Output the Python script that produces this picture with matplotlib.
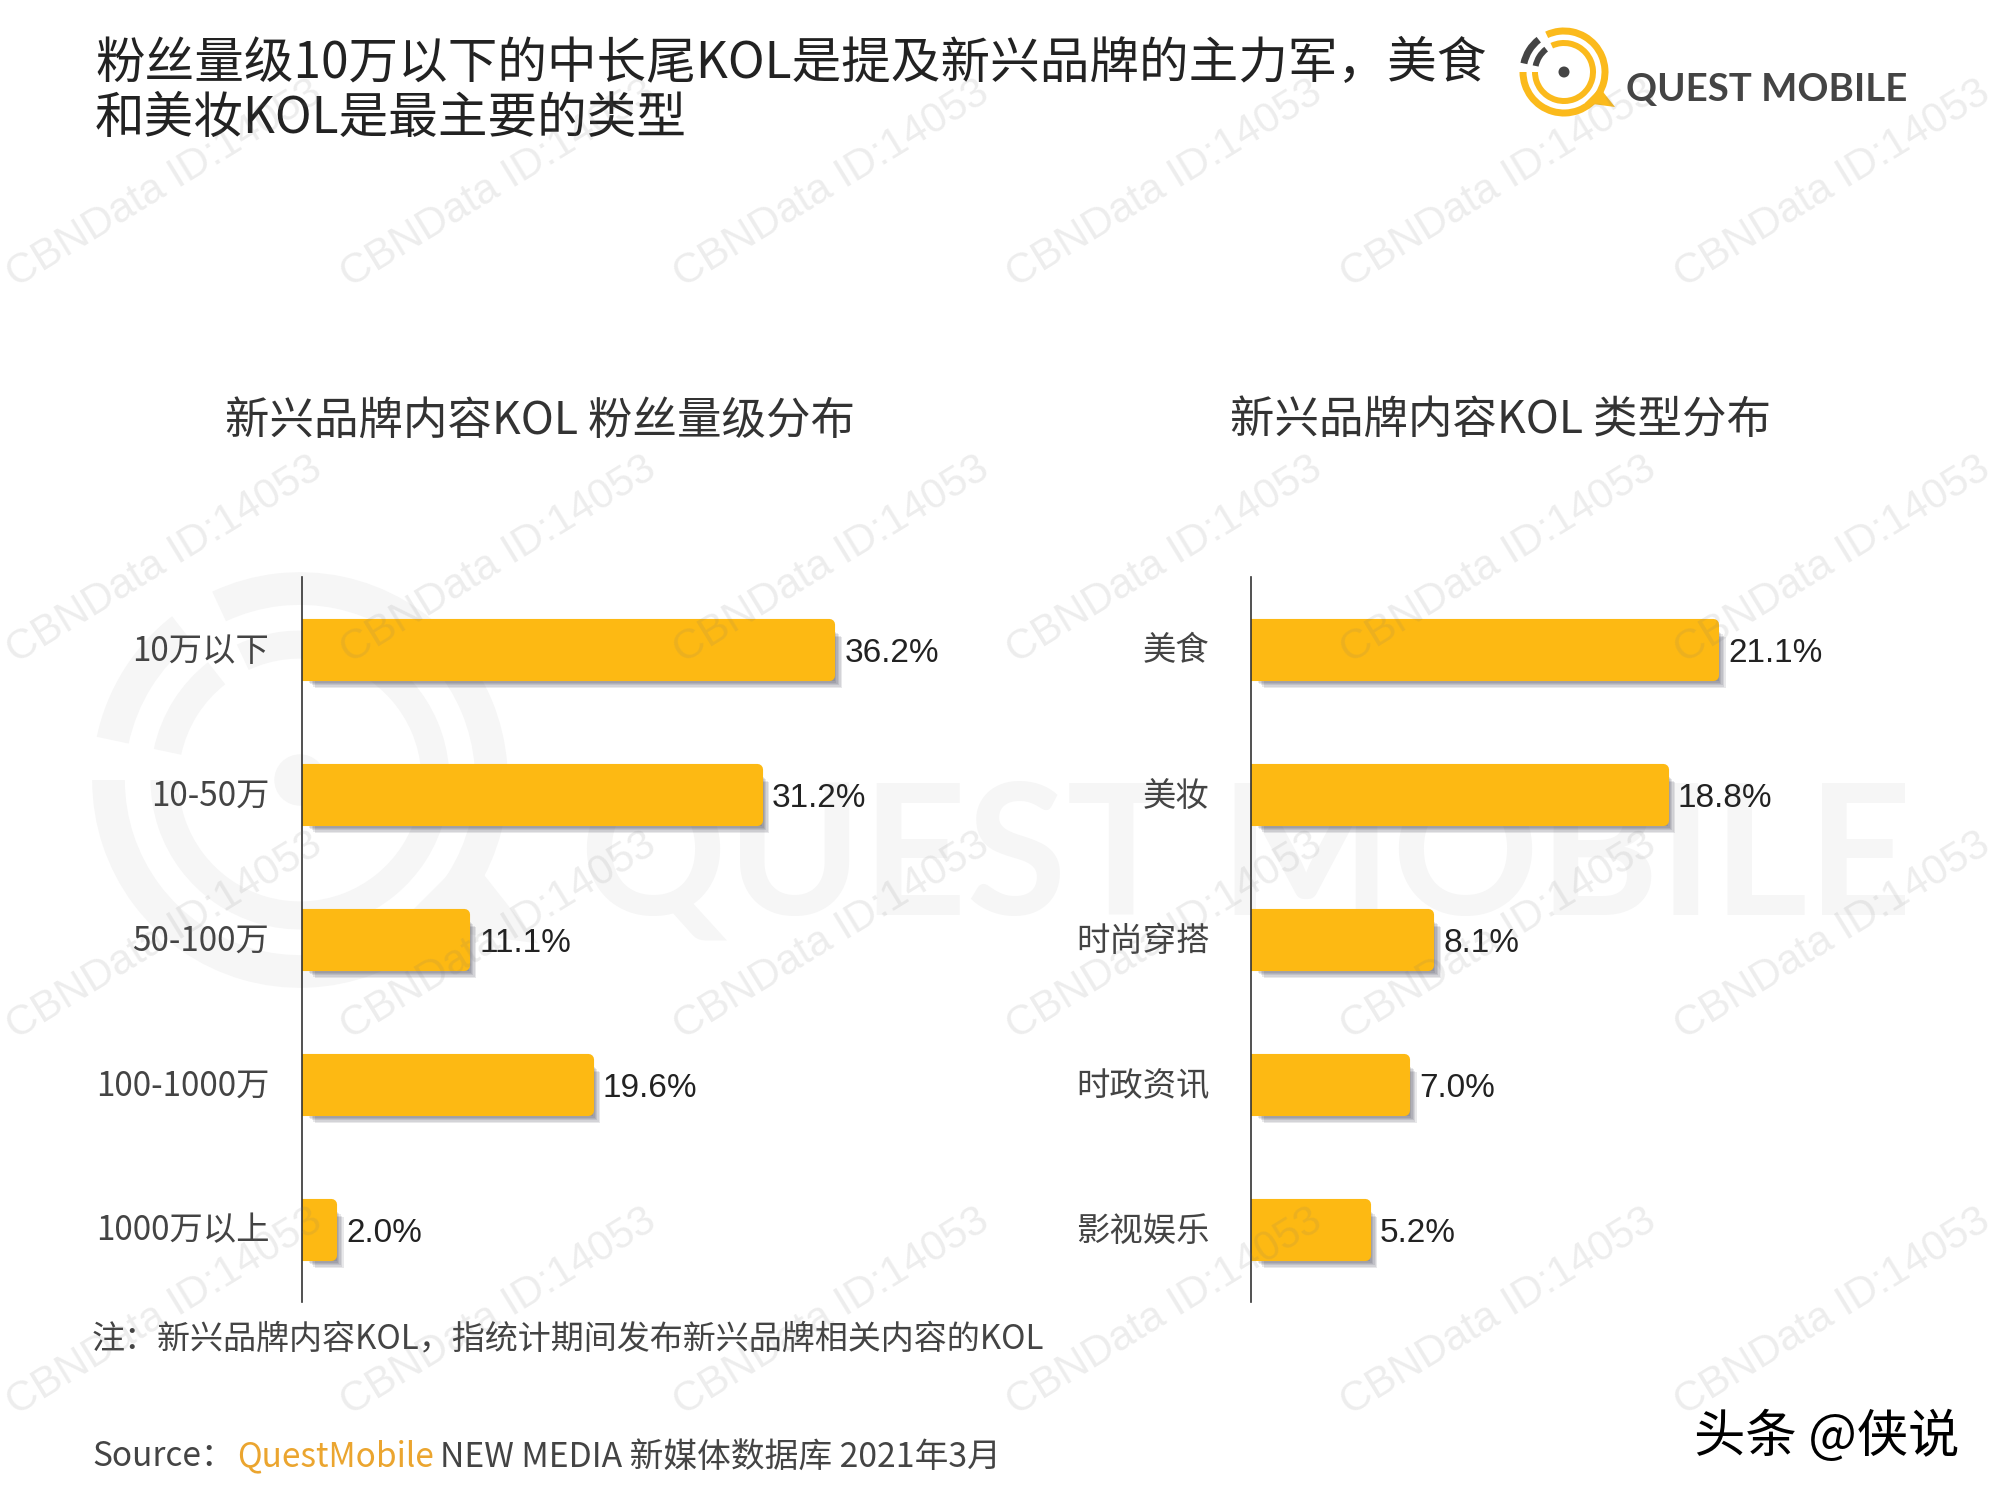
import matplotlib
matplotlib.use("Agg")
import matplotlib.pyplot as plt
import matplotlib.patheffects as pe
from matplotlib.patches import Wedge, Circle, Polygon
from matplotlib.transforms import ScaledTranslation

plt.rcParams['font.family'] = ['Noto Sans CJK SC', 'DejaVu Sans']

# data
fans_labels = ["10万以下", "10-50万", "50-100万", "100-1000万", "1000万以上"]
fans_values = [36.2, 31.2, 11.1, 19.6, 2.0]
type_labels = ["美食", "美妆", "时尚穿搭", "时政资讯", "影视娱乐"]
type_values = [21.1, 18.8, 8.1, 7.0, 5.2]

YELLOW = "#FDB913"
DARK = "#444444"
CJK = ['Noto Sans CJK SC', 'DejaVu Sans']

fig = plt.figure(figsize=(20, 15), dpi=100, facecolor="white")

# background layer in pixel coordinates
bg = fig.add_axes([0, 0, 1, 1], zorder=0)
bg.set_xlim(0, 2000)
bg.set_ylim(1500, 0)
bg.axis("off")


def ring(ax, cx, cy, r, w, a1, a2, color):
    # angles as seen on screen, y axis is inverted
    ax.add_patch(Wedge((cx, cy), r, -a2, -a1, width=w, color=color, lw=0))


def logo(ax, cx, cy, s, col1, col2):
    ring(ax, cx, cy, 44.5 * s, 7 * s, 180, 475, col1)
    ring(ax, cx, cy, 32 * s, 6 * s, 180, 475, col1)
    ring(ax, cx, cy, 44.5 * s, 7 * s, 128, 168, col2)
    ring(ax, cx, cy, 32 * s, 6 * s, 128, 168, col2)
    ax.add_patch(Circle((cx, cy), 5.5 * s, color=col2, lw=0))
    tail = [(36, 16), (51, 35), (21, 31)]
    ax.add_patch(Polygon([(cx + a * s, cy + b * s) for a, b in tail], color=col1, lw=0))


# big faint logo behind the charts
logo(bg, 300, 780, 4.67, "#F6F6F6", "#F6F6F6")
bg.text(580, 915, "QUEST MOBILE", fontsize=131, family="Lato", color="#F6F6F6",
        va="baseline", ha="left", weight="bold")

# top logo
logo(bg, 1564, 72, 1, "#FBBA1C", DARK)
bg.text(1626, 90, "QUEST MOBILE", fontsize=27.6, family="Lato", weight="bold",
        color=DARK, va="center", ha="left")

# titles
bg.text(95, 64, "粉丝量级10万以下的中长尾KOL是提及新兴品牌的主力军，美食", fontsize=35.7,
        color="#222222", va="center", weight="light")
bg.text(95, 119, "和美妆KOL是最主要的类型", fontsize=35.7,
        color="#222222", va="center", weight="light")
bg.text(540, 421, "新兴品牌内容KOL 粉丝量级分布", fontsize=32, color="#333333",
        ha="center", va="center", weight="light")
bg.text(1500, 420, "新兴品牌内容KOL 类型分布", fontsize=32, color="#333333",
        ha="center", va="center", weight="light")

# footer
bg.text(92, 1339, "注：新兴品牌内容KOL，指统计期间发布新兴品牌相关内容的KOL", fontsize=23.8,
        color=DARK, va="center", weight="light")
bg.text(92, 1457, "Source：", fontsize=24, color=DARK, va="center", weight="light")
bg.text(237, 1457, "QuestMobile", fontsize=24, color="#EBA52F", va="center", weight="light")
bg.text(440, 1457, "NEW MEDIA 新媒体数据库 2021年3月", fontsize=24.3, color=DARK, va="center",
        weight="light")
bg.text(1694, 1437, "头条 @侠说", fontsize=37, color="black", va="center")


def draw_bars(rect, labels, values, xmax, pad):
    ax = fig.add_axes(rect, zorder=1)
    ax.patch.set_alpha(0)
    bars = ax.barh(range(len(values)), values, height=0.352, color=YELLOW, edgecolor=YELLOW,
                   linewidth=8, joinstyle="round")
    # soft shadow, a few layers since matplotlib has no blur
    shadow = [pe.SimplePatchShadow(offset=(4.0 + k, -4.5 - k), shadow_rgbFace="#223", alpha=0.1)
              for k in range(5, -1, -1)]
    for b in bars:
        b.set_path_effects(shadow + [pe.Normal()])
    for i, v in enumerate(values):
        ax.annotate("%.1f%%" % v, (v, i), xytext=(11, -3), textcoords="offset points",
                    va="center", ha="left", fontsize=24, family="Liberation Sans", color="#222222")
    ax.set_xlim(0, xmax)
    ax.set_ylim(4.5, -0.5)
    ax.set_xticks([])
    ax.set_yticks(range(len(labels)))
    ax.set_yticklabels(labels, fontsize=24, color=DARK, weight="light", family=CJK)
    ax.tick_params(axis="y", length=0, pad=pad)
    up = ScaledTranslation(0, 1.8 / 72, fig.dpi_scale_trans)
    for t in ax.get_yticklabels():
        t.set_transform(t.get_transform() + up)
    for s in ["top", "right", "bottom"]:
        ax.spines[s].set_visible(False)
    ax.spines["left"].set_linewidth(1.2)
    ax.spines["left"].set_color("#333333")
    return ax


# 577..1302 px high, left and right axes
ax_h = 725 / 1500
ax_y = (1500 - 1302) / 1500
draw_bars([302 / 2000, ax_y, 14.57 * 40 / 2000, ax_h], fans_labels, fans_values, 40, 23.5)
draw_bars([1251 / 2000, ax_y, 21.9 * 24 / 2000, ax_h], type_labels, type_values, 24, 30)

# watermark tiled over everything
top = fig.add_axes([0, 0, 1, 1], zorder=5)
top.set_xlim(0, 2000)
top.set_ylim(1500, 0)
top.axis("off")
for row in range(4):
    for col in range(6):
        x = 16 + col * 333.5
        y = 288 + row * 376
        top.text(x, y, "CBNData ID:14053", fontsize=30.4, family="Liberation Sans",
                 color="#777777", alpha=0.13, rotation=31.5, rotation_mode="anchor",
                 ha="left", va="baseline")

fig.savefig("out.png", dpi=100)
